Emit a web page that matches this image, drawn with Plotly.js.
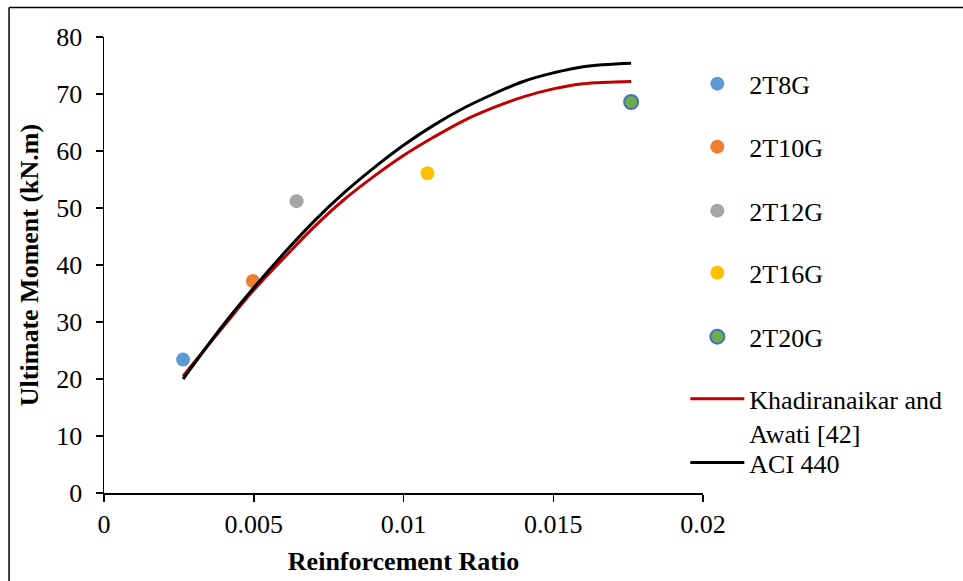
<!DOCTYPE html>
<html>
<head>
<meta charset="utf-8">
<script src="https://cdn.plot.ly/plotly-3.0.1.min.js"></script>
<style>
  html, body { margin: 0; padding: 0; background: #fff; }
  #chart { width: 963px; height: 581px; }
</style>
</head>
<body>
<div id="chart"></div>
<script>
// ---- Data ----
const markerNames = ["2T8G", "2T10G", "2T12G", "2T16G", "2T20G"];
const markerX = [0.00264, 0.00497, 0.00643, 0.0108, 0.0176];
const markerY = [23.4, 37.2, 51.2, 56.1, 68.6];
const markerFill = ["#5B9BD5", "#ED7D31", "#A5A5A5", "#FFC000", "#70AD47"];
const markerEdge = ["#5B9BD5", "#ED7D31", "#A5A5A5", "#FFC000", "#4472C4"];

const curveX = [0.00264, 0.004, 0.005, 0.006, 0.007, 0.008, 0.009, 0.010, 0.011, 0.012, 0.013, 0.014, 0.015, 0.016, 0.0176];
const khadiranaikarY = [20.5, 29.3, 35.6, 41.2, 46.6, 51.4, 55.5, 59.2, 62.4, 65.3, 67.6, 69.5, 70.9, 71.8, 72.2];
const aci440Y = [20.0, 29.6, 36.0, 42.0, 47.6, 52.6, 57.0, 61.0, 64.5, 67.5, 70.0, 72.2, 73.7, 74.8, 75.4];

const lineNames = ["Khadiranaikar and<br>Awati [42]", "ACI 440"];
const lineColors = ["#C00000", "#000000"];

const xTickVals = [0, 0.005, 0.01, 0.015, 0.02];
const xTickText = ["0", "0.005", "0.01", "0.015", "0.02"];
const yTickVals = [0, 10, 20, 30, 40, 50, 60, 70, 80];

// ---- Styling ----
const FONT = "Liberation Serif, Times New Roman, serif";
const FS = 26;

// legend slots (paper y, centre of each entry)
const legendY = [0.8975, 0.7593, 0.619, 0.483, 0.3427, 0.169, 0.0665];
const legendX = 0.9705;

const traces = [];
markerNames.forEach((n, i) => {
  traces.push({
    type: "scatter", mode: "markers", name: n,
    x: [markerX[i]], y: [markerY[i]],
    marker: { size: 14, color: markerFill[i], line: { color: markerEdge[i], width: i === 4 ? 2 : 0 } },
    legend: i === 0 ? "legend" : "legend" + (i + 1),
    hoverinfo: "skip"
  });
});
[khadiranaikarY, aci440Y].forEach((ys, j) => {
  traces.push({
    type: "scatter", mode: "lines", name: lineNames[j],
    x: curveX, y: ys,
    line: { color: lineColors[j], width: 3, shape: "spline", smoothing: 1 },
    legend: "legend" + (6 + j),
    hoverinfo: "skip"
  });
});

const layout = {
  width: 963, height: 581,
  margin: { l: 104, r: 260, t: 37, b: 88 },
  paper_bgcolor: "#fff", plot_bgcolor: "#fff",
  font: { family: FONT, size: FS, color: "#000" },
  showlegend: true,
  xaxis: {
    range: [0, 0.02], tickvals: xTickVals, ticktext: xTickText,
    showgrid: false, zeroline: false,
    showline: true, linecolor: "#000", linewidth: 1.5,
    ticks: "outside", ticklen: 7, tickwidth: 1.5, tickcolor: "#000",
    tickfont: { family: FONT, size: FS, color: "#000" },
    title: { text: "Reinforcement Ratio", font: { family: FONT, size: FS, weight: "bold", color: "#000" }, standoff: 14 },
    automargin: false, fixedrange: true
  },
  yaxis: {
    range: [0, 80], tickvals: yTickVals,
    showgrid: false, zeroline: false,
    showline: true, linecolor: "#000", linewidth: 1.5,
    ticks: "outside", ticklen: 7, tickwidth: 1.5, tickcolor: "#000",
    tickfont: { family: FONT, size: FS, color: "#000" },
    ticklabelstandoff: 8,
    title: { text: "Ultimate Moment (kN.m)", font: { family: FONT, size: FS, weight: "bold", color: "#000" }, standoff: 10 },
    automargin: false, fixedrange: true
  },
  shapes: [
    { type: "line", xref: "paper", yref: "paper", x0: -0.1585, x1: 1.5, y0: 1.0645, y1: 1.0645, line: { color: "#000", width: 1.5 } },
    { type: "line", xref: "paper", yref: "paper", x0: -0.1585, x1: -0.1585, y0: 1.0645, y1: -0.3, line: { color: "#000", width: 1.5 } }
  ]
};

const legKeys = ["legend", "legend2", "legend3", "legend4", "legend5", "legend6", "legend7"];
legKeys.forEach((k, i) => {
  layout[k] = {
    x: legendX, xanchor: "left", xref: "paper",
    y: legendY[i], yanchor: "middle", yref: "paper",
    bgcolor: "rgba(0,0,0,0)", borderwidth: 0,
    itemwidth: 54, valign: "top",
    font: { family: FONT, size: FS, color: "#000" }
  };
});

Plotly.newPlot("chart", traces, layout, { displayModeBar: false, staticPlot: true });
</script>
</body>
</html>
